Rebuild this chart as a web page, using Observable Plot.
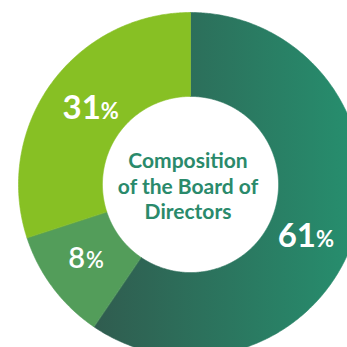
<!DOCTYPE html>
<html>
<head>
<meta charset="utf-8">
<script src="https://cdn.jsdelivr.net/npm/d3@7"></script>
<script src="https://cdn.jsdelivr.net/npm/@observablehq/plot@0.6"></script>
<style>
  html, body { margin: 0; padding: 0; background: #ffffff; }
  #chart { width: 347px; height: 347px; overflow: hidden; }
</style>
</head>
<body>
<div id="chart"></div>
<script>
// ---- data ----
const sliceNames = ["Group 1", "Group 2", "Group 3"];
const labelNumbers = ["61", "8", "31"];          // stated percentages
const drawnShares = [59.5, 10.5, 30];            // slice sizes as drawn (clockwise from 12 o'clock)
const sliceFills = ["url(#grad61)", "#539d5a", "#87c024"];
const centerTitle = "Composition\nof the Board of\nDirectors";

// label styling per slice
const numberSizes = [33, 29, 33];
const percentSizes = [22, 22, 22];
const labelWeights = [700, 600, 700];
const labelDx = [3, -3, 14];
const labelDy = [25, 7, 10];

// ---- geometry derived from data ----
const outerR = 1, innerR = 0.512, labelR = 0.745;
const total = d3.sum(drawnShares);
let acc = 0;
const slices = drawnShares.map((v, i) => {
  const a0 = acc / total * 2 * Math.PI; acc += v;
  const a1 = acc / total * 2 * Math.PI;
  return {i, a0, a1, mid: (a0 + a1) / 2};
});
const ring = [];
for (const s of slices) {
  const n = Math.max(12, Math.ceil((s.a1 - s.a0) / (Math.PI / 360)));
  for (let k = 0; k <= n; k++) {
    const a = s.a0 + (s.a1 - s.a0) * k / n;
    ring.push({slice: sliceNames[s.i], x: outerR * Math.sin(a), y: outerR * Math.cos(a), fill: sliceFills[s.i]});
  }
  for (let k = n; k >= 0; k--) {
    const a = s.a0 + (s.a1 - s.a0) * k / n;
    ring.push({slice: sliceNames[s.i], x: innerR * Math.sin(a), y: innerR * Math.cos(a), fill: sliceFills[s.i]});
  }
}
const labelPts = slices.map(s => ({x: labelR * Math.sin(s.mid), y: labelR * Math.cos(s.mid), num: labelNumbers[s.i], i: s.i}));

const labelMarks = labelPts.flatMap(p => [
  Plot.text([p], {x: "x", y: "y", text: "num", textAnchor: "end", lineAnchor: "bottom",
    dx: labelDx[p.i], dy: labelDy[p.i], fill: "white", fontSize: numberSizes[p.i], fontWeight: labelWeights[p.i]}),
  Plot.text([p], {x: "x", y: "y", text: () => "%", textAnchor: "start", lineAnchor: "bottom",
    dx: labelDx[p.i] + (p.i === 1 ? 1 : 0), dy: labelDy[p.i], fill: "white", fontSize: percentSizes[p.i], fontWeight: labelWeights[p.i]})
]);

const chart = Plot.plot({
  width: 347,
  height: 347,
  margin: 0,
  style: {fontFamily: "Lato, 'Open Sans', sans-serif", background: "white"},
  x: {domain: [-190 / 172, 157 / 172], axis: null},
  y: {domain: [-163 / 172, 184 / 172], axis: null},
  color: {type: "identity"},
  marks: [
    Plot.line(ring, {x: "x", y: "y", z: "slice", fill: "fill", stroke: "fill", strokeWidth: 0.6, curve: "linear-closed"}),
    ...labelMarks,
    Plot.text([{x: 0, y: 0}], {x: "x", y: "y", text: () => centerTitle, textAnchor: "middle", lineAnchor: "middle",
      lineHeight: 1.22, dx: -2.5, dy: 1, fill: "#2a8a6b", fontSize: 21, fontWeight: 700})
  ]
});

const ns = "http://www.w3.org/2000/svg";
const defs = document.createElementNS(ns, "defs");
const grad = document.createElementNS(ns, "linearGradient");
grad.setAttribute("id", "grad61");
grad.setAttribute("x1", "0"); grad.setAttribute("y1", "0");
grad.setAttribute("x2", "1"); grad.setAttribute("y2", "0");
[["0", "#305c4f"], ["1", "#26906f"]].forEach(([o, c]) => {
  const st = document.createElementNS(ns, "stop");
  st.setAttribute("offset", o); st.setAttribute("stop-color", c);
  grad.appendChild(st);
});
defs.appendChild(grad);
chart.insertBefore(defs, chart.firstChild);

document.getElementById("chart").appendChild(chart);
</script>
</body>
</html>
